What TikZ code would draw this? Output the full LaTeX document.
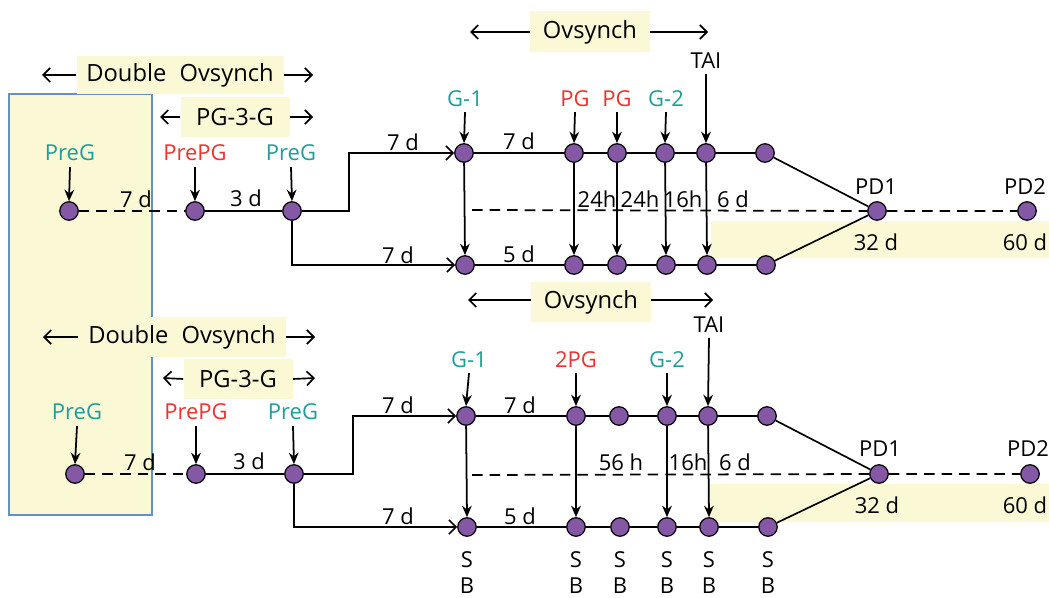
\documentclass[tikz,border=0pt]{standalone}
\usepackage{fontspec}
\setmainfont{Open Sans}
\usetikzlibrary{arrows.meta}
\definecolor{bandyel}{RGB}{251,248,214}
\definecolor{boxblue}{RGB}{96,146,196}
\definecolor{dotpur}{RGB}{133,88,166}
\definecolor{tealc}{RGB}{30,158,154}
\definecolor{redc}{RGB}{238,50,44}
\tikzset{
  dot/.style={circle,draw=black,line width=0.7pt,fill=dotpur,minimum size=0.37cm,inner sep=0pt},
  lbl/.style={font=\fontsize{12.5}{14}\selectfont,inner sep=1pt},
  biglbl/.style={font=\fontsize{13.5}{15}\selectfont,inner sep=0pt},
  ybox/.style={fill=bandyel,draw=none},
  ln/.style={line width=0.95pt},
  dashln/.style={line width=1pt,dash pattern=on 6pt off 4pt},
  darr/.style={line width=1pt,-{Stealth[length=6.5pt,width=5.5pt]}},
  oarr/.style={line width=0.95pt,-{Straight Barb[length=4pt,width=8pt]}},
  sarr/.style={line width=0.95pt,-{Straight Barb[length=4pt,width=8pt]}},
}
\begin{document}
\begin{tikzpicture}[x=0.02cm,y=-0.02cm]
\useasboundingbox (0,0) rectangle (1049,598);
% backgrounds
\fill[bandyel,draw=boxblue,line width=0.8pt] (9,94) rectangle (152,515);
\fill[ybox] (711,221) rectangle (1049,258);
\fill[ybox] (708,484) rectangle (1049,522);

% ===================== TOP HALF =====================
\node[ybox,minimum width=207*0.02cm,minimum height=38*0.02cm] (dov1) at (180,75) {};
\node[biglbl] at (dov1) {Double\hspace{0.3em} Ovsynch};
\coordinate (dov1l) at (42,75); \coordinate (dov1r) at (313,75);
\draw[sarr] (dov1.west) -- (dov1l);
\draw[sarr] (dov1.east) -- (dov1r);

\node[ybox,minimum width=109*0.02cm,minimum height=40*0.02cm] (pg1) at (235,117) {};
\node[biglbl] at (pg1) {PG-3-G};
\coordinate (pg1l) at (160,117); \coordinate (pg1r) at (313,117);
\draw[sarr] (pg1.west) -- (pg1l);
\draw[sarr] (pg1.east) -- (pg1r);

\node[ybox,minimum width=120*0.02cm,minimum height=41*0.02cm] (ov1) at (590,32) {};
\node[biglbl] at (ov1) {Ovsynch};
\coordinate (ov1l) at (470,32); \coordinate (ov1r) at (708,32);
\draw[sarr] (ov1.west) -- (ov1l);
\draw[sarr] (ov1.east) -- (ov1r);

% left dots
\node[dot] (a1) at (69,211) {};
\node[dot] (a2) at (195,211) {};
\node[dot] (a3) at (292,211) {};
\node[lbl,text=tealc] (la1) at (70,153) {PreG};
\node[lbl,text=redc] (la2) at (195,153) {PrePG};
\node[lbl,text=tealc] (la3) at (291,153) {PreG};
\draw[darr] (la1.south) ++(0,4) -- (a1.north);
\draw[darr] (la2.south) ++(0,4) -- (a2.north);
\draw[darr] (la3.south) ++(0,4) -- (a3.north);
\draw[dashln] (a1) -- (a2);
\draw[ln] (a2) -- (a3);
\node[lbl] at (136,199) {7 d};
\node[lbl] at (246,198) {3 d};

% main top rows
\node[dot] (t1) at (464,153) {};
\node[dot] (t2) at (574,153) {};
\node[dot] (t3) at (617,153) {};
\node[dot] (t4) at (665,153) {};
\node[dot] (t5) at (706,153) {};
\node[dot] (t6) at (765,153) {};
\node[dot] (b1) at (465,265) {};
\node[dot] (b2) at (574,265) {};
\node[dot] (b3) at (617,265) {};
\node[dot] (b4) at (666,265) {};
\node[dot] (b5) at (707,265) {};
\node[dot] (b6) at (766,265) {};
\node[dot] (pd1) at (877,211) {};
\node[dot] (pd2) at (1027,211) {};

\draw[oarr] (a3) -- ++(57,0) |- (t1);
\draw[oarr] (a3) |- (b1);
\node[lbl] at (403,142) {7 d};
\node[lbl] at (398,255) {7 d};

\draw[ln] (t1) -- (t2) -- (t3) -- (t4) -- (t5) -- (t6) -- (pd1);
\draw[ln] (b1) -- (b2) -- (b3) -- (b4) -- (b5) -- (b6) -- (pd1);
\coordinate (m1) at (472,210);
\draw[dashln] (m1) -- (pd1) -- (pd2);

\node[lbl,text=tealc] (lt1) at (465,99) {G-1};
\node[lbl,text=redc] (lt2) at (575,99) {PG};
\node[lbl,text=redc] (lt3) at (617,99) {PG};
\node[lbl,text=tealc] (lt4) at (666,99) {G-2};
\node[lbl] (lt5) at (706,61) {TAI};
\draw[darr] (lt1.south) ++(0,3) -- (t1.north);
\draw[darr] (lt2.south) ++(0,3) -- (t2.north);
\draw[darr] (lt3.south) ++(0,3) -- (t3.north);
\draw[darr] (lt4.south) ++(0,3) -- (t4.north);
\draw[darr] (lt5.south) ++(0,3) -- (t5.north);

\draw[darr] (t1) -- (b1.north);
\draw[darr] (t2) -- (b2.north);
\draw[darr] (t3) -- (b3.north);
\draw[darr] (t4) -- (b4.north);
\draw[darr] (t5) -- (b5.north);

\node[lbl] at (519,141) {7 d};
\node[lbl] at (519,254) {5 d};
\node[lbl] at (597,199) {24h};
\node[lbl] at (640,199) {24h};
\node[lbl] at (683,199) {16h};
\node[lbl] at (733,199) {6 d};
\node[lbl] at (876,187) {PD1};
\node[lbl] at (1025,187) {PD2};
\node[lbl] at (876,242) {32 d};
\node[lbl] at (1025,242) {60 d};

% ===================== BOTTOM HALF =====================
\node[ybox,minimum width=208*0.02cm,minimum height=40*0.02cm] (dov2) at (182,337) {};
\node[biglbl] at (dov2) {Double\hspace{0.3em} Ovsynch};
\coordinate (dov2l) at (43,337); \coordinate (dov2r) at (315,337);
\draw[sarr] (dov2.west) -- (dov2l);
\draw[sarr] (dov2.east) -- (dov2r);

\node[ybox,minimum width=109*0.02cm,minimum height=40*0.02cm] (pg2) at (238,379) {};
\node[biglbl] at (pg2) {PG-3-G};
\coordinate (pg2l) at (163,378); \coordinate (pg2r) at (315,378);
\draw[sarr] (pg2.west) -- (pg2l);
\draw[sarr] (pg2.east) -- (pg2r);

\node[ybox,minimum width=120*0.02cm,minimum height=40*0.02cm] (ov2) at (591,302) {};
\node[biglbl] at (ov2) {Ovsynch};
\coordinate (ov2l) at (468,300); \coordinate (ov2r) at (713,300);
\draw[sarr] (ov2.west |- ov2l) -- (ov2l);
\draw[sarr] (ov2.east |- ov2r) -- (ov2r);

\node[dot] (c1) at (75,474) {};
\node[dot] (c2) at (196,474) {};
\node[dot] (c3) at (294,474) {};
\node[lbl,text=tealc] (lc1) at (77,412) {PreG};
\node[lbl,text=redc] (lc2) at (196,412) {PrePG};
\node[lbl,text=tealc] (lc3) at (293,412) {PreG};
\draw[darr] (lc1.south) ++(0,4) -- (c1.north);
\draw[darr] (lc2.south) ++(0,4) -- (c2.north);
\draw[darr] (lc3.south) ++(0,4) -- (c3.north);
\draw[dashln] (c1) -- (c2);
\draw[ln] (c2) -- (c3);
\node[lbl] at (140,462) {7 d};
\node[lbl] at (249,461) {3 d};

\node[dot] (u1) at (466,416) {};
\node[dot] (u2) at (576,416) {};
\node[dot] (u3) at (619,416) {};
\node[dot] (u4) at (667,416) {};
\node[dot] (u5) at (708,416) {};
\node[dot] (u6) at (767,416) {};
\node[dot] (d1) at (467,527) {};
\node[dot] (d2) at (576,527) {};
\node[dot] (d3) at (620,527) {};
\node[dot] (d4) at (667,527) {};
\node[dot] (d5) at (709,527) {};
\node[dot] (d6) at (768,527) {};
\node[dot] (pe1) at (879,474) {};
\node[dot] (pe2) at (1030,474) {};

\draw[oarr] (c3) -- ++(59,0) |- (u1);
\draw[oarr] (c3) |- (d1);
\node[lbl] at (398,405) {7 d};
\node[lbl] at (398,516) {7 d};

\draw[ln] (u1) -- (u2) -- (u3) -- (u4) -- (u5) -- (u6) -- (pe1);
\draw[ln] (d1) -- (d2) -- (d3) -- (d4) -- (d5) -- (d6) -- (pe1);
\coordinate (m2) at (472,475);
\draw[dashln] (m2) -- (pe1) -- (pe2);

\node[lbl,text=tealc] (lu1) at (469,360) {G-1};
\node[lbl,text=redc] (lu2) at (576,360) {2PG};
\node[lbl,text=tealc] (lu4) at (667,360) {G-2};
\node[lbl] (lu5) at (709,325) {TAI};
\draw[darr] (lu1.south) ++(0,3) -- (u1.north);
\draw[darr] (lu2.south) ++(0,3) -- (u2.north);
\draw[darr] (lu4.south) ++(0,3) -- (u4.north);
\draw[darr] (lu5.south) ++(0,3) -- (u5.north);

\draw[darr] (u1) -- (d1.north);
\draw[darr] (u2) -- (d2.north);
\draw[darr] (u4) -- (d4.north);
\draw[darr] (u5) -- (d5.north);

\node[lbl] at (520,405) {7 d};
\node[lbl] at (520,516) {5 d};
\node[lbl] at (621,462) {56 h};
\node[lbl] at (688,462) {16h};
\node[lbl] at (735,462) {6 d};
\node[lbl] at (880,449) {PD1};
\node[lbl] at (1028,449) {PD2};
\node[lbl] at (877,505) {32 d};
\node[lbl] at (1025,505) {60 d};

\foreach \n/\x in {d1/467,d2/576,d3/620,d4/667,d5/709,d6/768}{
  \node[lbl] (s\n) at (\x,560) {S};
  \node[lbl] (bb\n) at (\x,586) {B};
}
\end{tikzpicture}
\end{document}
